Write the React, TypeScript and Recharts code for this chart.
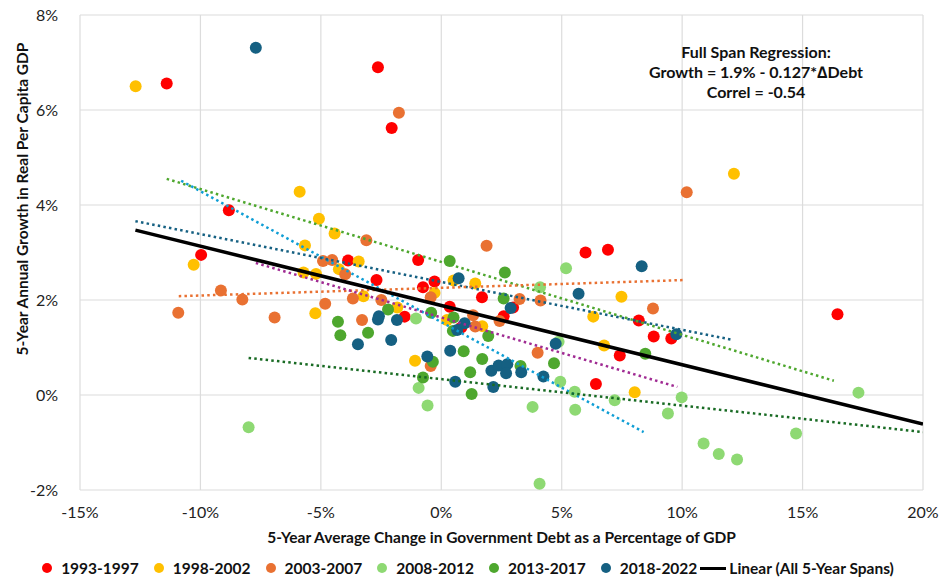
import React from "react";
import { ScatterChart, Scatter, XAxis, YAxis, CartesianGrid } from "recharts";

// axis ticks (percent)
const xTicks = [-15, -10, -5, 0, 5, 10, 15, 20];
const yTicks = [-2, 0, 2, 4, 6, 8];

// 5-year spans: x = avg change in debt/GDP (%), y = real per capita growth (%)
const span1993 = [
  { x: -11.4, y: 6.56 }, { x: -2.63, y: 6.9 }, { x: -2.06, y: 5.62 }, { x: -8.82, y: 3.89 },
  { x: -9.97, y: 2.95 }, { x: 5.99, y: 3.0 }, { x: 6.92, y: 3.06 }, { x: -3.87, y: 2.83 },
  { x: -0.96, y: 2.84 }, { x: -2.69, y: 2.42 }, { x: -0.28, y: 2.39 }, { x: -0.76, y: 2.27 },
  { x: 1.69, y: 2.06 }, { x: 2.98, y: 1.84 }, { x: -1.52, y: 1.65 }, { x: 0.35, y: 1.86 },
  { x: 0.83, y: 1.42 }, { x: 2.59, y: 1.66 }, { x: 7.41, y: 0.83 }, { x: 6.42, y: 0.23 },
  { x: 8.2, y: 1.57 }, { x: 8.82, y: 1.23 }, { x: 9.55, y: 1.19 }, { x: 16.45, y: 1.7 },
];

const span1998 = [
  { x: -12.69, y: 6.5 }, { x: -5.88, y: 4.28 }, { x: -5.08, y: 3.71 }, { x: -4.43, y: 3.4 },
  { x: -5.66, y: 3.15 }, { x: 12.15, y: 4.66 }, { x: -10.28, y: 2.74 }, { x: -5.23, y: 1.72 },
  { x: -5.72, y: 2.58 }, { x: -5.2, y: 2.55 }, { x: -4.25, y: 2.65 }, { x: -3.43, y: 2.81 },
  { x: 7.48, y: 2.07 }, { x: -0.28, y: 2.15 }, { x: 0.51, y: 2.41 }, { x: 1.41, y: 2.35 },
  { x: -3.23, y: 2.08 }, { x: -1.83, y: 1.84 }, { x: 0.24, y: 1.58 }, { x: 1.7, y: 1.45 },
  { x: 6.76, y: 1.04 }, { x: -1.09, y: 0.72 }, { x: 8.03, y: 0.06 }, { x: 6.31, y: 1.65 },
];

const span2003 = [
  { x: -1.76, y: 5.94 }, { x: -3.11, y: 3.26 }, { x: 1.88, y: 3.14 }, { x: 10.19, y: 4.27 },
  { x: -9.15, y: 2.2 }, { x: -8.26, y: 2.01 }, { x: -10.92, y: 1.73 }, { x: -6.92, y: 1.63 },
  { x: -4.82, y: 1.92 }, { x: -4.91, y: 2.82 }, { x: -4.53, y: 2.84 }, { x: -3.99, y: 2.54 },
  { x: -0.44, y: 2.06 }, { x: 4.12, y: 1.99 }, { x: 3.25, y: 2.02 }, { x: -3.67, y: 2.03 },
  { x: -2.49, y: 2.0 }, { x: -3.29, y: 1.58 }, { x: 1.32, y: 1.68 }, { x: 1.41, y: 1.44 },
  { x: 2.42, y: 1.56 }, { x: 4.0, y: 0.89 }, { x: -0.44, y: 0.61 }, { x: 8.79, y: 1.82 },
];

const span2008 = [
  { x: -8.0, y: -0.68 }, { x: 5.18, y: 2.67 }, { x: 4.1, y: 2.27 }, { x: -1.05, y: 1.61 },
  { x: 4.87, y: 1.12 }, { x: 4.94, y: 0.28 }, { x: 5.54, y: 0.07 }, { x: 7.2, y: -0.11 },
  { x: -0.94, y: 0.15 }, { x: -0.57, y: -0.22 }, { x: 3.79, y: -0.25 }, { x: 5.56, y: -0.31 },
  { x: 4.08, y: -1.87 }, { x: 9.98, y: -0.05 }, { x: 9.41, y: -0.39 }, { x: 10.89, y: -1.02 },
  { x: 11.52, y: -1.24 }, { x: 12.28, y: -1.36 }, { x: 14.73, y: -0.81 }, { x: 17.32, y: 0.05 },
];

const span2013 = [
  { x: 0.35, y: 2.82 }, { x: 2.64, y: 2.58 }, { x: -4.29, y: 1.54 }, { x: -4.19, y: 1.26 },
  { x: 2.59, y: 2.03 }, { x: -2.21, y: 1.8 }, { x: -0.42, y: 1.73 }, { x: -3.04, y: 1.31 },
  { x: 0.51, y: 1.63 }, { x: 0.48, y: 1.35 }, { x: 1.95, y: 1.24 }, { x: 4.68, y: 0.67 },
  { x: 0.93, y: 0.92 }, { x: -0.35, y: 0.7 }, { x: 1.7, y: 0.76 }, { x: 1.2, y: 0.48 },
  { x: 3.29, y: 0.61 }, { x: -0.76, y: 0.37 }, { x: 1.26, y: 0.02 }, { x: 8.47, y: 0.87 },
];

const span2018 = [
  { x: -7.7, y: 7.31 }, { x: 5.7, y: 2.13 }, { x: 0.72, y: 2.46 }, { x: 2.88, y: 1.83 },
  { x: -2.59, y: 1.66 }, { x: -2.63, y: 1.59 }, { x: -1.84, y: 1.58 }, { x: -2.08, y: 1.16 },
  { x: -3.46, y: 1.07 }, { x: 0.66, y: 1.37 }, { x: 0.97, y: 1.51 }, { x: 4.75, y: 1.08 },
  { x: 0.37, y: 0.93 }, { x: -0.58, y: 0.81 }, { x: 2.08, y: 0.51 }, { x: 2.38, y: 0.62 },
  { x: 2.74, y: 0.65 }, { x: 2.69, y: 0.46 }, { x: 3.32, y: 0.48 }, { x: 4.24, y: 0.39 },
  { x: 0.58, y: 0.28 }, { x: 2.16, y: 0.17 }, { x: 8.32, y: 2.71 }, { x: 9.76, y: 1.28 },
];

// dotted per-span trendlines (end points)
const trendA = [{ x: -11.4, y: 4.55 }, { x: 16.3, y: 0.3 }];
const trendB = [{ x: -10.8, y: 4.51 }, { x: 8.4, y: -0.78 }];
const trendC = [{ x: -12.7, y: 3.66 }, { x: 12.1, y: 1.16 }];
const trendD = [{ x: -10.9, y: 2.08 }, { x: 10.1, y: 2.42 }];
const trendE = [{ x: -7.7, y: 2.78 }, { x: 9.8, y: 0.17 }];
const trendF = [{ x: -8.0, y: 0.78 }, { x: 20, y: -0.78 }];

// full-span regression line
const fullSpanLine = [{ x: -12.7, y: 3.47 }, { x: 20, y: -0.61 }];

const spans = [
  { name: "1993-1997", color: "#FF0000", data: span1993 },
  { name: "1998-2002", color: "#FFC000", data: span1998 },
  { name: "2003-2007", color: "#E97132", data: span2003 },
  { name: "2008-2012", color: "#8ED973", data: span2008 },
  { name: "2013-2017", color: "#4EA72E", data: span2013 },
  { name: "2018-2022", color: "#156082", data: span2018 },
];

const trends = [
  { id: "A", color: "#4EA72E", data: trendA },
  { id: "B", color: "#0F9ED5", data: trendB },
  { id: "C", color: "#156082", data: trendC },
  { id: "D", color: "#E97132", data: trendD },
  { id: "E", color: "#A02B93", data: trendE },
  { id: "F", color: "#196B24", data: trendF },
];

const FONT = "Lato, 'Open Sans', sans-serif";

const dot = (color: string) => (props: any) => (
  <circle cx={props.cx} cy={props.cy} r={6} fill={color} />
);

const noShape = () => <g />;

export default function App() {
  return (
    <div style={{ position: "absolute", left: 0, top: 0, width: 943, height: 582, background: "#fff", fontFamily: FONT }}>
      <ScatterChart width={943} height={582} margin={{ top: 15, right: 20, bottom: 0, left: 0 }}>
        <CartesianGrid stroke="#dcdcdc" strokeWidth={1.2} />
        <XAxis
          type="number"
          dataKey="x"
          domain={[-15, 20]}
          ticks={xTicks}
          allowDataOverflow
          tickFormatter={(v) => `${v}%`}
          axisLine={false}
          tickLine={false}
          tickSize={0}
          tickMargin={17}
          height={92}
          tick={{ fontSize: 16, fill: "#222", fontFamily: FONT }}
          label={{
            content: (p: any) => (
              <text
                x={p.viewBox.x + p.viewBox.width / 2}
                y={p.viewBox.y + 47}
                textAnchor="middle"
                dominantBaseline="central"
                fontSize={15.5}
                fontWeight={700}
                fontFamily={FONT}
                fill="#111"
              >
                5-Year Average Change in Government Debt as a Percentage of GDP
              </text>
            ),
          }}
        />
        <YAxis
          type="number"
          dataKey="y"
          domain={[-2, 8]}
          ticks={yTicks}
          allowDataOverflow
          tickFormatter={(v) => `${v}%`}
          axisLine={false}
          tickLine={false}
          tickSize={0}
          tickMargin={22}
          width={80}
          tick={{ fontSize: 16, fill: "#222", fontFamily: FONT }}
          label={{
            content: () => (
              <text
                x={22}
                y={199}
                transform="rotate(-90, 22, 199)"
                textAnchor="middle"
                dominantBaseline="central"
                fontSize={15.5}
                fontWeight={700}
                fontFamily={FONT}
                fill="#111"
              >
                5-Year Annual Growth in Real Per Capita GDP
              </text>
            ),
          }}
        />
        {spans.map((s) => (
          <Scatter
            key={s.name}
            name={s.name}
            data={s.data}
            fill={s.color}
            shape={dot(s.color)}
            isAnimationActive={false}
          />
        ))}
        {trends.map((t) => (
          <Scatter
            key={t.id}
            data={t.data}
            shape={noShape}
            line={{ stroke: t.color, strokeWidth: 2.5, strokeDasharray: "2.5 3.2" }}
            isAnimationActive={false}
          />
        ))}
        <Scatter
          data={fullSpanLine}
          shape={noShape}
          line={{ stroke: "#000", strokeWidth: 3.5 }}
          isAnimationActive={false}
        />
      </ScatterChart>

      <div
        style={{
          position: "absolute",
          left: 606,
          top: 42,
          width: 300,
          textAlign: "center",
          fontSize: 16,
          fontWeight: 700,
          lineHeight: "20px",
          color: "#111",
          whiteSpace: "nowrap",
        }}
      >
        <div>Full Span Regression:</div>
        <div>Growth = 1.9% - 0.127*∆Debt</div>
        <div>Correl = -0.54</div>
      </div>

      <div
        style={{
          position: "absolute",
          left: 0,
          width: 936,
          top: 558,
          height: 20,
          display: "flex",
          justifyContent: "center",
          alignItems: "center",
          fontSize: 15.5,
          fontWeight: 700,
          color: "#111",
          whiteSpace: "nowrap",
        }}
      >
        {spans.map((s) => (
          <div key={s.name} style={{ display: "flex", alignItems: "center", marginRight: 15 }}>
            <span style={{ width: 10, height: 10, borderRadius: 5, background: s.color, marginRight: 9 }} />
            <span>{s.name}</span>
          </div>
        ))}
        <div style={{ display: "flex", alignItems: "center", marginLeft: -12 }}>
          <span style={{ width: 26, height: 3, background: "#000", marginRight: 3 }} />
          <span>Linear (All 5-Year Spans)</span>
        </div>
      </div>
    </div>
  );
}
